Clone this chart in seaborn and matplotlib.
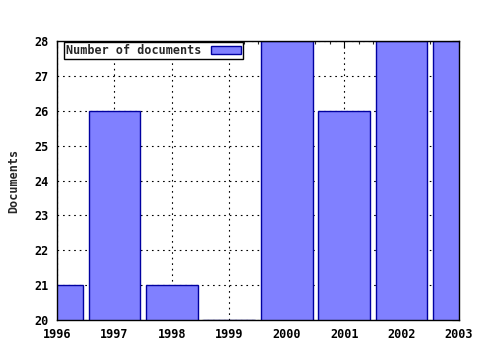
import matplotlib
matplotlib.use("Agg")
import matplotlib.pyplot as plt
import seaborn as sns
import pandas as pd
from matplotlib.ticker import MultipleLocator

years = [1996, 1997, 1998, 1999, 2000, 2001, 2002, 2003]
documents = [21, 26, 21, 20, 28, 26, 28, 28]
series_label = "Number of documents"
y_label = "Documents"

df = pd.DataFrame({"year": years, "docs": documents})

sns.set_style("white")
plt.rcParams['font.family'] = ['DejaVu Sans Mono']
plt.rcParams['font.weight'] = 'bold'

fig = plt.figure(figsize=(4.8, 3.5), dpi=100)
ax = fig.add_axes([57/480, 1-320/350, (459-57)/480, (320-41)/350])

sns.barplot(data=df, x="year", y="docs", native_scale=True, width=0.9,
            color="#8080ff", saturation=1, edgecolor="#0000a0", linewidth=1.0,
            label=series_label, ax=ax, zorder=2)

ax.set_xlim(1996, 2003)
ax.set_ylim(20, 28)
ax.xaxis.set_minor_locator(MultipleLocator(0.25))
ax.yaxis.set_major_locator(MultipleLocator(1))
ax.set_xticks(years)
ax.set_xticklabels([str(y) for y in years])

ax.grid(True, which="major", linestyle=(0, (1.5, 3.5)), color="black", linewidth=0.8, zorder=1)
ax.set_axisbelow(True)
for s in ax.spines.values():
    s.set_color("black")
    s.set_linewidth(1.0)
    s.set_zorder(5)

ax.tick_params(axis="both", which="major", direction="in", length=5, width=0.8,
               top=True, right=True, labelsize=8.5, colors="black", pad=6)
ax.tick_params(axis="x", which="minor", direction="in", length=2.5, width=0.8, top=True)
ax.tick_params(axis="y", which="minor", left=False, right=False)
for lab in ax.get_xticklabels() + ax.get_yticklabels():
    lab.set_fontweight("bold")

ax.set_xlabel("")
ax.set_ylabel(y_label, fontsize=8.5, fontweight="bold", labelpad=10)

leg = ax.legend(loc="upper left", bbox_to_anchor=(0.015, 1.0), markerfirst=False,
                frameon=True, fancybox=False, framealpha=1, edgecolor="black",
                borderpad=0.15, handlelength=2.6, handleheight=0.6, handletextpad=0.8,
                borderaxespad=0.1, prop={"size": 8.5, "weight": "bold"})
leg.get_frame().set_linewidth(1.0)
leg.set_zorder(10)

fig.savefig("out.png", dpi=100)
